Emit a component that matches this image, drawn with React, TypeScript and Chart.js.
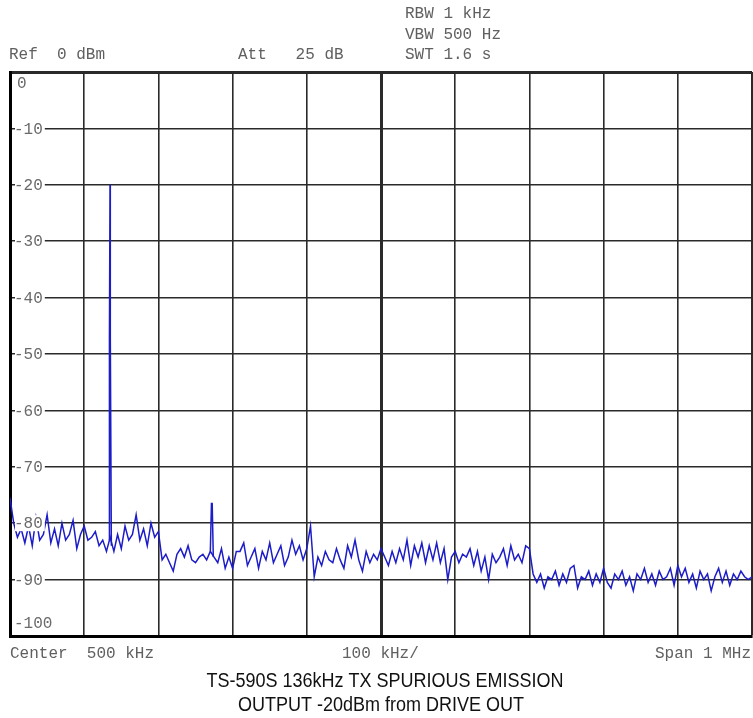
import { useEffect, useRef } from 'react';
import { Chart, registerables } from 'chart.js';

Chart.register(...registerables);

// Spectrum trace: noise floor sampled every STEP_KHZ from 0 to 1000 kHz (dBm)
const STEP_KHZ = 5;
const noiseLevels = [
  -75.5, -80, -82.5, -81, -83.5, -80.5, -84, -79, -83, -82,
  -78.5, -83.5, -81, -84, -80, -83, -82, -79.5, -84.5, -82,
  -80.5, -83, -82.5, -81.5, -84, -83, -85, -82.5, -85, -82,
  -84.5, -80.5, -83, -82, -78.5, -83, -81, -84, -80, -82.5,
  -81.5,
  -86.5, -85.5, -87, -88.5, -85.5, -84.5, -86, -84, -86.5, -87,
  -86, -85.5, -86.5, -85, -86, -87, -84.5, -88, -86, -88,
  -85, -85, -83.5, -87.5, -86, -84.5, -88, -85, -86.5, -83.5,
  -87, -85.5, -84, -87.5, -86, -83, -85.5, -84, -86.5, -84.5,
  -80.5, -89.5, -86, -87.5, -85, -86.5, -87, -84.5, -86.5, -88,
  -84, -86, -83, -86.5, -88.5, -85, -87, -85.5, -86.5, -84.5,
  -86, -87.5, -85, -87, -84.5, -86.5, -83, -87.5, -84, -86,
  -83.5, -87, -84, -86.5, -83.5, -87, -84.5, -90, -86, -85,
  -87, -85.5, -86, -84.5, -87.5, -85, -88.5, -86, -90, -85.5,
  -87, -86, -84.5, -87.5, -84, -86.5, -85.5, -87, -84, -84.5,
  -89, -90.5, -89, -91.5, -89.5, -90, -88.5, -91, -89, -90.5,
  -88, -87.5, -91.5, -89.5, -90, -88.5, -91, -89, -90.5, -88,
  -90.5, -91.5, -89, -90, -88.5, -91, -89.5, -92, -89, -90,
  -88, -90.5, -89, -91, -88.5, -90, -89.5, -88, -91, -87.5,
  -89.5, -88, -90.5, -89, -91.5, -88.5, -90, -89, -92, -89.5,
  -88, -90.5, -88.5, -91, -89, -90, -88.5, -89.5, -90, -89.5,
];

// 136 kHz carrier
const carrierFreqs = [133.5, 134.0, 134.8, 135.0, 135.4, 136.6];
const carrierLevels = [-83, -47, -20, -33, -47, -84];

// 2nd harmonic (272 kHz)
const harmonicFreqs = [270, 271.5, 272.5, 274];
const harmonicLevels = [-85, -76.5, -76.5, -86];

const yTickLabels = ['0', '-10', '-20', '-30', '-40', '-50', '-60', '-70', '-80', '-90', '-100'];
const yTickValues = [0, -10, -20, -30, -40, -50, -60, -70, -80, -90, -100];

const headerLeft = 'Ref  0 dBm';
const headerMid = 'Att   25 dB';
const headerRight = ['RBW 1 kHz', 'VBW 500 Hz', 'SWT 1.6 s'];
const footerLeft = 'Center  500 kHz';
const footerMid = '100 kHz/';
const footerRight = 'Span 1 MHz';
const titleLines = ['TS-590S 136kHz TX SPURIOUS EMISSION', 'OUTPUT -20dBm from DRIVE OUT'];

const TRACE = 'rgb(28,28,200)';
const GRID = '#2a2a2a';
const MONO = '16px "Liberation Mono", "Courier New", monospace';

const textPlugin = {
  id: 'analyzerText',
  afterDraw(chart: any) {
    const ctx = chart.ctx as CanvasRenderingContext2D;
    const area = chart.chartArea;
    const ys = chart.scales.y;
    ctx.save();
    ctx.font = MONO;
    ctx.fillStyle = '#606060';
    ctx.textBaseline = 'middle';
    ctx.textAlign = 'left';
    ctx.fillText(headerLeft, 9, 55);
    ctx.fillText(headerMid, 238, 55);
    headerRight.forEach((t, i) => ctx.fillText(t, 405, 14 + i * 20.5));
    ctx.fillText(footerLeft, 10, 654);
    ctx.fillText(footerMid, 342, 654);
    ctx.textAlign = 'right';
    ctx.fillText(footerRight, 751, 654);

    // y labels inside plot
    ctx.textAlign = 'left';
    ctx.fillStyle = '#6a6a6a';
    yTickValues.forEach((v, i) => {
      const label = yTickLabels[i];
      const y = ys.getPixelForValue(v);
      if (i === 0) {
        ctx.fillText(label, area.left + 7, y + 12);
        return;
      }
      if (i === yTickValues.length - 1) {
        ctx.fillText(label, area.left + 4, y - 12);
        return;
      }
      const w = ctx.measureText(label).width;
      ctx.fillStyle = '#fff';
      ctx.fillRect(area.left + 5, y - 8, w + 1, 16);
      ctx.fillStyle = '#6a6a6a';
      ctx.fillText(label, area.left + 4, y + 1);
    });

    // title (narrow sans, condensed horizontally)
    ctx.fillStyle = '#111';
    ctx.textAlign = 'center';
    ctx.font = '20px "Liberation Sans", Arial, sans-serif';
    const drawNarrow = (t: string, cx: number, cy: number) => {
      ctx.save();
      ctx.translate(cx, cy);
      ctx.scale(0.9, 1);
      ctx.fillText(t, 0, 0);
      ctx.restore();
    };
    drawNarrow(titleLines[0], 385, 681);
    drawNarrow(titleLines[1], 381, 705);
    ctx.restore();
  },
};

export default function App() {
  const ref = useRef<HTMLCanvasElement | null>(null);
  useEffect(() => {
    if (!ref.current) return;
    const noise = noiseLevels.map((v, i) => ({ x: i * STEP_KHZ, y: v }));
    const carrier = carrierFreqs.map((f, i) => ({ x: f, y: carrierLevels[i] }));
    const harmonic = harmonicFreqs.map((f, i) => ({ x: f, y: harmonicLevels[i] }));
    const ds = (data: any[]) => ({
      data,
      borderColor: TRACE,
      borderWidth: 1.5,
      pointRadius: 0,
      tension: 0,
      fill: false,
    });
    const chart = new Chart(ref.current, {
      type: 'line',
      data: { datasets: [ds(noise), ds(carrier), ds(harmonic)] },
      options: {
        animation: false,
        responsive: false,
        devicePixelRatio: 1,
        layout: { padding: { left: 10, right: 1, top: 72, bottom: 82 } },
        plugins: { legend: { display: false }, tooltip: { enabled: false }, title: { display: false } },
        scales: {
          x: {
            type: 'linear',
            min: 0,
            max: 1000,
            afterFit: (s: any) => { s.height = 0; },
            ticks: { display: false, stepSize: 100 },
            grid: {
              color: GRID,
              drawTicks: false,
              lineWidth: (c: any) => (c.tick && (c.tick.value === 500 || c.tick.value === 1000) ? 3 : 1.6),
            },
            border: { display: true, color: '#000', width: 3 },
          },
          y: {
            type: 'linear',
            min: -100,
            max: 0,
            afterFit: (s: any) => { s.width = 0; },
            ticks: { display: false, stepSize: 10 },
            grid: {
              color: GRID,
              drawTicks: false,
              lineWidth: (c: any) => (c.tick && c.tick.value === 0 ? 3 : 1.6),
            },
            border: { display: true, color: '#000', width: 3 },
          },
        },
      },
      plugins: [textPlugin],
    });
    return () => chart.destroy();
  }, []);
  return (
    <div style={{ position: 'absolute', left: 0, top: 0, width: 753, height: 718, background: '#fff' }}>
      <canvas ref={ref} width={753} height={718} style={{ width: 753, height: 718 }} />
    </div>
  );
}
